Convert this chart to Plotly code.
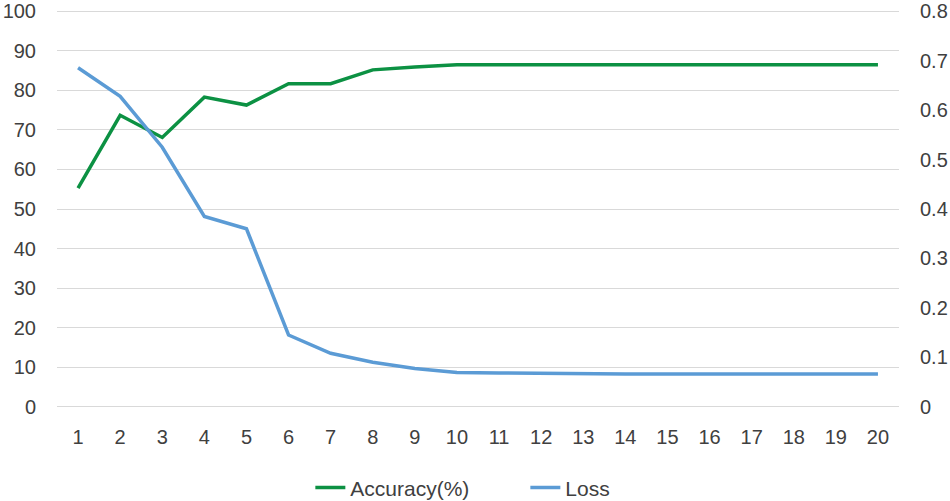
import plotly.graph_objects as go

epochs = list(range(1, 21))
accuracy = [55.3, 73.7, 68.1, 78.3, 76.3, 81.7, 81.7, 85.2, 85.9, 86.5,
            86.5, 86.5, 86.5, 86.5, 86.5, 86.5, 86.5, 86.5, 86.5, 86.5]
loss = [0.686, 0.628, 0.525, 0.385, 0.360, 0.145, 0.108, 0.090, 0.077, 0.069,
        0.068, 0.067, 0.066, 0.066, 0.066, 0.066, 0.066, 0.066, 0.066, 0.066]
left_ticks = [0, 10, 20, 30, 40, 50, 60, 70, 80, 90, 100]
right_ticks = [0, 0.1, 0.2, 0.3, 0.4, 0.5, 0.6, 0.7, 0.8]

GREEN = "#0C9143"
BLUE = "#5B9BD5"
TXT = "#404040"
FONT = "Liberation Sans"

fig = go.Figure()
fig.add_trace(go.Scatter(x=epochs, y=accuracy, mode="lines", name="Accuracy(%)",
                         line=dict(color=GREEN, width=3.5), yaxis="y"))
fig.add_trace(go.Scatter(x=epochs, y=loss, mode="lines", name="Loss",
                         line=dict(color=BLUE, width=3.5), yaxis="y2"))

pad = 0.6  # small padding so edge gridlines are drawn
fig.update_layout(
    width=950, height=501,
    margin=dict(l=57, r=51, t=9, b=92, autoexpand=False),
    paper_bgcolor="white", plot_bgcolor="white",
    font=dict(family=FONT, size=20, color=TXT),
    showlegend=True,
    legend=dict(orientation="h", x=0.553, xanchor="center", xref="container",
                y=0.026, yanchor="middle", yref="container",
                font=dict(size=21, color=TXT), entrywidth=170, tracegroupgap=0),
    xaxis=dict(tickmode="array", tickvals=epochs, ticktext=[str(e) for e in epochs],
               range=[0.5, 20.5], showgrid=False, zeroline=False, showline=False,
               ticks="", ticklabelstandoff=14, automargin=False),
    yaxis=dict(range=[-pad, 100 + pad], tickvals=left_ticks, showgrid=True,
               gridcolor="#D9D9D9", gridwidth=1.3, zeroline=False, showline=False,
               ticks="", ticklabelstandoff=20, automargin=False,
               ticklabeloverflow="allow"),
    yaxis2=dict(range=[-pad * 0.008, 0.8 + pad * 0.008], tickvals=right_ticks,
                ticktext=["0" if v == 0 else f"{v:.1f}" for v in right_ticks],
                overlaying="y", side="right", showgrid=False, zeroline=False,
                showline=False, ticks="", ticklabelstandoff=20, automargin=False,
                ticklabeloverflow="allow"),
)

fig.write_html("out.html", config={"displayModeBar": False},
               post_script="document.body.style.margin='0';document.body.style.overflow='hidden';")
